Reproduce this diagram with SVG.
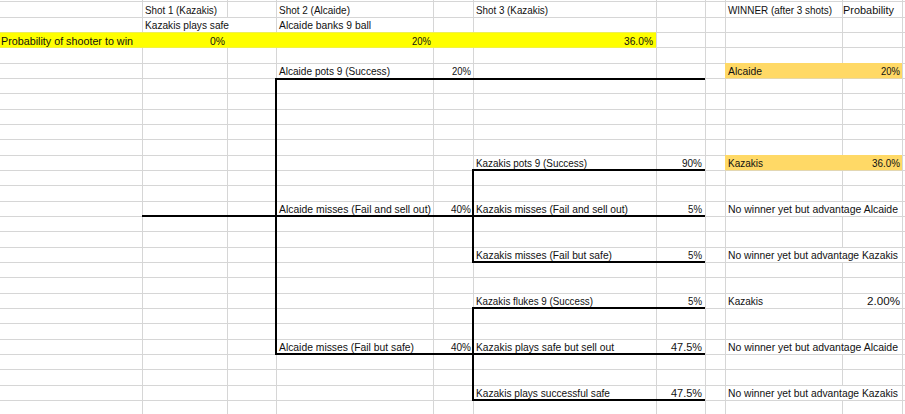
<svg xmlns="http://www.w3.org/2000/svg" width="905" height="414" viewBox="0 0 905 414">
<style>
.grid{stroke:#D6D6D6;stroke-width:1;fill:none;shape-rendering:crispEdges}
.thick{stroke:#000;stroke-width:2;fill:none;stroke-linecap:square}
text{font-family:"Liberation Sans",Arial,sans-serif;font-size:10.3px;fill:#111}
.r{text-anchor:end}
.yellow{fill:#FFFF00}
.orange{fill:#FFD966}
</style>
<rect width="905" height="414" fill="#FFFFFF"/>
<g id="gridlines">
<path class="grid" d="M0 1.7H905M0 17H905M0 32.4H905M0 47.7H905M0 63H905M0 78.4H905M0 93.7H905M0 109H905M0 124.3H905M0 139.7H905M0 155H905M0 170.3H905M0 185.7H905M0 201H905M0 216.3H905M0 231.7H905M0 247H905M0 262.3H905M0 277.6H905M0 293H905M0 308.3H905M0 323.6H905M0 339H905M0 354.3H905M0 369.6H905M0 385H905M0 400.3H905"/>
<path class="grid" d="M142 0V414M227.5 0V17M227.5 32.4V414M276 0V414M433 0V414M473 0V414M656 0V414M705 0V414M725 0V414M842 0V201M842 216.3V247M842 262.3V339M842 354.3V385M842 400.3V414M902 0V414"/>
</g>
<g id="fills">
<rect class="yellow" x="0" y="32.4" width="656" height="15.3"/>
<rect class="orange" x="725" y="63" width="177" height="15.4"/>
<rect class="orange" x="725" y="155" width="177" height="15.3"/>
</g>
<g id="headers">
<text x="145" y="13.8" textLength="72" lengthAdjust="spacingAndGlyphs">Shot 1 (Kazakis)</text>
<text x="145" y="29.2" textLength="84" lengthAdjust="spacingAndGlyphs">Kazakis plays safe</text>
<text x="279" y="13.8" textLength="71" lengthAdjust="spacingAndGlyphs">Shot 2 (Alcaide)</text>
<text x="279" y="29.2" textLength="92" lengthAdjust="spacingAndGlyphs">Alcaide banks 9 ball</text>
<text x="476" y="13.8" textLength="72" lengthAdjust="spacingAndGlyphs">Shot 3 (Kazakis)</text>
<text x="728" y="13.8" textLength="104" lengthAdjust="spacingAndGlyphs">WINNER (after 3 shots)</text>
<text x="843" y="13.8" textLength="51" lengthAdjust="spacingAndGlyphs">Probability</text>
</g>
<g id="probability-row">
<text x="1" y="44.5" textLength="132" lengthAdjust="spacingAndGlyphs">Probability of shooter to win</text>
<text class="r" x="225" y="44.5" textLength="15" lengthAdjust="spacingAndGlyphs">0%</text>
<text class="r" x="431" y="44.5" textLength="19" lengthAdjust="spacingAndGlyphs">20%</text>
<text class="r" x="653" y="44.5" textLength="29" lengthAdjust="spacingAndGlyphs">36.0%</text>
</g>
<g id="node-alcaide-pots">
<text x="279" y="75" textLength="111" lengthAdjust="spacingAndGlyphs">Alcaide pots 9 (Success)</text>
<text class="r" x="471" y="75" textLength="19" lengthAdjust="spacingAndGlyphs">20%</text>
</g>
<g id="result-alcaide-pots">
<text x="728" y="75" textLength="34" lengthAdjust="spacingAndGlyphs">Alcaide</text>
<text class="r" x="900" y="75" textLength="19" lengthAdjust="spacingAndGlyphs">20%</text>
</g>
<g id="node-alcaide-sellout">
<text x="279" y="213" textLength="152" lengthAdjust="spacingAndGlyphs">Alcaide misses (Fail and sell out)</text>
<text class="r" x="471" y="213" textLength="20" lengthAdjust="spacingAndGlyphs">40%</text>
</g>
<g id="node-alcaide-safe">
<text x="279" y="351" textLength="135" lengthAdjust="spacingAndGlyphs">Alcaide misses (Fail but safe)</text>
<text class="r" x="471" y="351" textLength="20" lengthAdjust="spacingAndGlyphs">40%</text>
</g>
<g id="node-kazakis-pots">
<text x="476" y="167" textLength="111" lengthAdjust="spacingAndGlyphs">Kazakis pots 9 (Success)</text>
<text class="r" x="702" y="167" textLength="20" lengthAdjust="spacingAndGlyphs">90%</text>
<text x="728" y="167" textLength="35" lengthAdjust="spacingAndGlyphs">Kazakis</text>
<text class="r" x="900" y="167" textLength="28" lengthAdjust="spacingAndGlyphs">36.0%</text>
</g>
<g id="node-kazakis-sellout">
<text x="476" y="213" textLength="152" lengthAdjust="spacingAndGlyphs">Kazakis misses (Fail and sell out)</text>
<text class="r" x="702" y="213" textLength="14" lengthAdjust="spacingAndGlyphs">5%</text>
<text x="728" y="213" textLength="170" lengthAdjust="spacingAndGlyphs">No winner yet but advantage Alcaide</text>
</g>
<g id="node-kazakis-failsafe">
<text x="476" y="259" textLength="136" lengthAdjust="spacingAndGlyphs">Kazakis misses (Fail but safe)</text>
<text class="r" x="702" y="259" textLength="14" lengthAdjust="spacingAndGlyphs">5%</text>
<text x="728" y="259" textLength="170" lengthAdjust="spacingAndGlyphs">No winner yet but advantage Kazakis</text>
</g>
<g id="node-kazakis-flukes">
<text x="476" y="305" textLength="117" lengthAdjust="spacingAndGlyphs">Kazakis flukes 9 (Success)</text>
<text class="r" x="702" y="305" textLength="14" lengthAdjust="spacingAndGlyphs">5%</text>
<text x="728" y="305" textLength="35" lengthAdjust="spacingAndGlyphs">Kazakis</text>
<text class="r" x="900" y="305" textLength="33" lengthAdjust="spacingAndGlyphs">2.00%</text>
</g>
<g id="node-kazakis-safe-sellout">
<text x="476" y="351" textLength="138" lengthAdjust="spacingAndGlyphs">Kazakis plays safe but sell out</text>
<text class="r" x="702" y="351" textLength="31" lengthAdjust="spacingAndGlyphs">47.5%</text>
<text x="728" y="351" textLength="170" lengthAdjust="spacingAndGlyphs">No winner yet but advantage Alcaide</text>
</g>
<g id="node-kazakis-successful-safe">
<text x="476" y="397" textLength="134" lengthAdjust="spacingAndGlyphs">Kazakis plays successful safe</text>
<text class="r" x="702" y="397" textLength="31" lengthAdjust="spacingAndGlyphs">47.5%</text>
<text x="728" y="397" textLength="170" lengthAdjust="spacingAndGlyphs">No winner yet but advantage Kazakis</text>
</g>
<g id="connectors">
<path class="thick" d="M276 79H704"/>
<path class="thick" d="M276 79V354"/>
<path class="thick" d="M143 216H704"/>
<path class="thick" d="M276 354H704"/>
<path class="thick" d="M473 170V262"/>
<path class="thick" d="M473 170H704"/>
<path class="thick" d="M473 262H704"/>
<path class="thick" d="M473 308V400"/>
<path class="thick" d="M473 308H704"/>
<path class="thick" d="M473 400H704"/>
</g>
</svg>
